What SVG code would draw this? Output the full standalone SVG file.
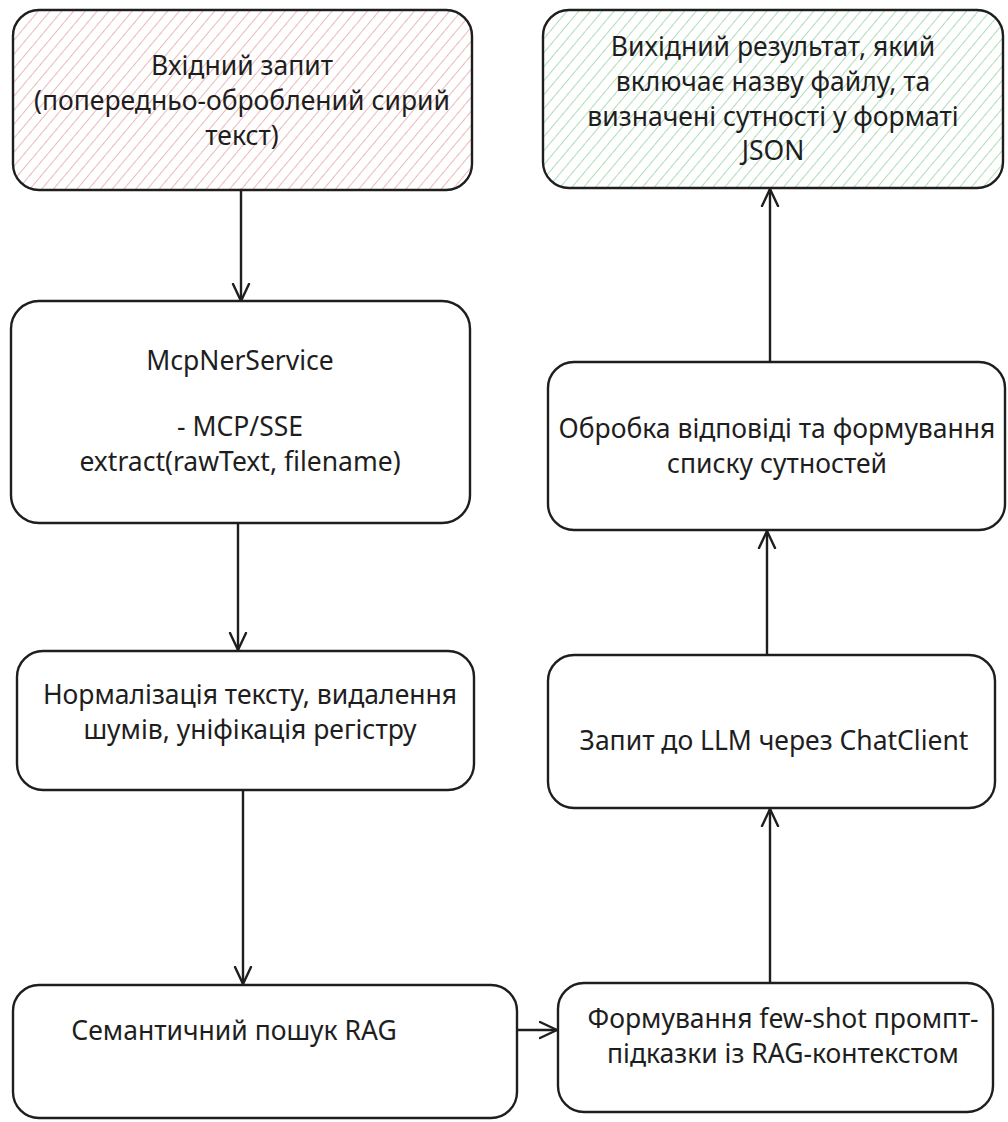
<svg xmlns="http://www.w3.org/2000/svg" width="1008" height="1122" viewBox="0 0 1008 1122">
  <style>
    .box { fill: none; stroke: #1e1e1e; stroke-width: 2.4; }
    .plain { fill: #ffffff; }
    .lbl { font-family: "Noto Sans", "Open Sans", sans-serif; font-size: 26.5px; fill: #1e1e1e; text-anchor: middle; dominant-baseline: central; }
    .wire { fill: none; stroke: #1e1e1e; stroke-width: 2.4; stroke-linecap: round; stroke-linejoin: round; }
  </style>
  <defs>
    <pattern id="hatchRed" patternUnits="userSpaceOnUse" width="9" height="9" patternTransform="rotate(40)">
      <line x1="0" y1="0" x2="0" y2="9" stroke="#e59a9a" stroke-width="1.4"/>
    </pattern>
    <pattern id="hatchGreen" patternUnits="userSpaceOnUse" width="9" height="9" patternTransform="rotate(40)">
      <line x1="0" y1="0" x2="0" y2="9" stroke="#8ccf99" stroke-width="1.4"/>
    </pattern>
    <marker id="head" viewBox="0 0 20 20" refX="18" refY="10" markerWidth="20" markerHeight="20" markerUnits="userSpaceOnUse" orient="auto">
      <path d="M1 2 L18 10 L1 18" fill="none" stroke="#1e1e1e" stroke-width="2.4" stroke-linecap="round" stroke-linejoin="round"/>
    </marker>
  </defs>

  <rect width="1008" height="1122" fill="#ffffff"/>

  <!-- connectors -->
  <g id="connectors">
    <path class="wire" d="M241 190 L241 301" marker-end="url(#head)"/>
    <path class="wire" d="M238 523 L238 650" marker-end="url(#head)"/>
    <path class="wire" d="M243 790 L243 984" marker-end="url(#head)"/>
    <path class="wire" d="M517 1030 L557 1030" marker-end="url(#head)"/>
    <path class="wire" d="M770 983 L770 809" marker-end="url(#head)"/>
    <path class="wire" d="M767 655 L767 531" marker-end="url(#head)"/>
    <path class="wire" d="M770 362 L770 189" marker-end="url(#head)"/>
  </g>

  <!-- input request -->
  <g id="node-input">
    <rect x="13" y="10" width="459" height="180" rx="26" fill="url(#hatchRed)"/>
    <rect class="box" x="13" y="10" width="459" height="180" rx="26"/>
    <text class="lbl" x="242" y="65">Вхідний запит</text>
    <text class="lbl" x="242" y="100">(попередньо-оброблений сирий</text>
    <text class="lbl" x="242" y="135">текст)</text>
  </g>

  <!-- output result -->
  <g id="node-output">
    <rect x="543" y="10" width="460" height="178" rx="26" fill="url(#hatchGreen)"/>
    <rect class="box" x="543" y="10" width="460" height="178" rx="26"/>
    <text class="lbl" x="773" y="46">Вихідний результат, який</text>
    <text class="lbl" x="773" y="81">включає назву файлу, та</text>
    <text class="lbl" x="773" y="116">визначені сутності у форматі</text>
    <text class="lbl" x="773" y="150">JSON</text>
  </g>

  <!-- MCP service -->
  <g id="node-mcp">
    <rect class="box plain" x="11" y="301" width="459" height="222" rx="28"/>
    <text class="lbl" x="240" y="360">McpNerService</text>
    <text class="lbl" x="240" y="426">- MCP/SSE</text>
    <text class="lbl" x="240" y="461">extract(rawText, filename)</text>
  </g>

  <!-- normalisation -->
  <g id="node-normalize">
    <rect class="box plain" x="17" y="651" width="457" height="139" rx="26"/>
    <text class="lbl" x="250" y="694">Нормалізація тексту, видалення</text>
    <text class="lbl" x="250" y="729">шумів, уніфікація регістру</text>
  </g>

  <!-- semantic search -->
  <g id="node-rag">
    <rect class="box plain" x="13" y="985" width="504" height="133" rx="26"/>
    <text class="lbl" x="234" y="1030">Семантичний пошук RAG</text>
  </g>

  <!-- few-shot prompt -->
  <g id="node-prompt">
    <rect class="box plain" x="558" y="983" width="435" height="129" rx="26"/>
    <text class="lbl" x="783" y="1018">Формування few-shot промпт-</text>
    <text class="lbl" x="783" y="1053">підказки із RAG-контекстом</text>
  </g>

  <!-- LLM request -->
  <g id="node-llm">
    <rect class="box plain" x="548" y="655" width="447" height="153" rx="26"/>
    <text class="lbl" x="774" y="740">Запит до LLM через ChatClient</text>
  </g>

  <!-- response processing -->
  <g id="node-process">
    <rect class="box plain" x="548" y="362" width="457" height="168" rx="26"/>
    <text class="lbl" x="777" y="428">Обробка відповіді та формування</text>
    <text class="lbl" x="777" y="463">списку сутностей</text>
  </g>
</svg>
